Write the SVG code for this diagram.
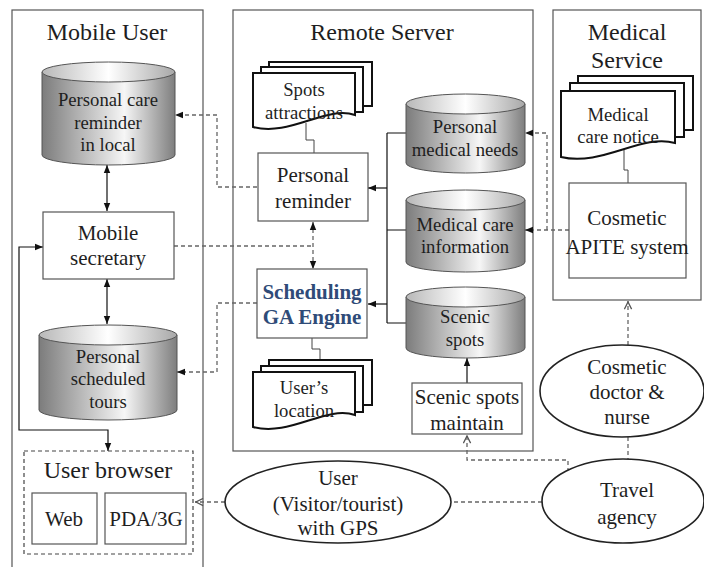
<svg xmlns="http://www.w3.org/2000/svg" width="704" height="567" viewBox="0 0 704 567">
<defs>
<linearGradient id="gBody" x1="0" y1="0" x2="1" y2="0">
<stop offset="0" stop-color="#7c7c7c"/><stop offset="0.62" stop-color="#f6f6f6"/><stop offset="1" stop-color="#7e7e7e"/>
</linearGradient>
<linearGradient id="gTop" x1="0" y1="0" x2="1" y2="0">
<stop offset="0" stop-color="#b8b8b8"/><stop offset="0.5" stop-color="#ffffff"/><stop offset="1" stop-color="#a8a8a8"/>
</linearGradient>
<marker id="ah" viewBox="0 0 10 10" refX="10" refY="5" markerWidth="8" markerHeight="8" orient="auto-start-reverse" markerUnits="userSpaceOnUse"><path d="M0,1 L10,5 L0,9 z" fill="#111"/></marker>
<marker id="oh" viewBox="0 0 10 10" refX="10" refY="5" markerWidth="9" markerHeight="9" orient="auto-start-reverse" markerUnits="userSpaceOnUse"><path d="M1,1 L9,5 L1,9" fill="none" stroke="#555" stroke-width="1.4"/></marker>
</defs>
<style>
text{font-family:"Liberation Serif","Times New Roman",serif;fill:#1e1e1e;text-anchor:middle}
.t{font-size:24px}
.b{font-size:21px}
.c{font-size:18.7px}
.ge{font-size:21px;font-weight:bold;fill:#2f4b78}
.cont{fill:#fff;stroke:#555;stroke-width:1.2}
.box{fill:#fff;stroke:#555;stroke-width:1.2}
.body{fill:url(#gBody);stroke:#555;stroke-width:1}
.top{fill:url(#gTop);stroke:#555;stroke-width:1}
.doc{fill:#fff;stroke:#111;stroke-width:2}
.ell{fill:#fff;stroke:#222;stroke-width:1.6}
.sl{fill:none;stroke:#111;stroke-width:1.2}
.dl{fill:none;stroke:#666;stroke-width:1.3;stroke-dasharray:4 3}
.thin{fill:none;stroke:#444;stroke-width:1}
</style>

<g id="containers">
<rect id="mobile-user" class="cont" x="12" y="10" width="191" height="565"/>
<rect id="remote-server" class="cont" x="233" y="10" width="300" height="441"/>
<rect id="medical-service" class="cont" x="553" y="10" width="148" height="290"/>
<text class="t" x="107" y="40">Mobile User</text>
<text class="t" x="382" y="40">Remote Server</text>
<text class="t" x="627" y="40">Medical</text>
<text class="t" x="627" y="68">Service</text>
</g>

<g id="connectors">
<path class="sl" d="M107,165 V211" marker-start="url(#ah)" marker-end="url(#ah)"/>
<path class="sl" d="M107,279 V324" marker-start="url(#ah)" marker-end="url(#ah)"/>
<path class="sl" d="M43,247 H19 V430 H108 V451" marker-start="url(#ah)" marker-end="url(#ah)"/>
<path class="dl" d="M257,187 H217 V115 H175" marker-end="url(#ah)"/>
<path class="dl" d="M257,303 H217 V372 H177" marker-end="url(#ah)"/>
<path class="dl" d="M174,246 H313"/>
<path class="dl" d="M313,222 V269" marker-start="url(#ah)" marker-end="url(#ah)"/>
<path class="sl" d="M387,133 V323 M406,133 H387 M406,230 H387 M406,323 H387"/>
<path class="sl" d="M387,188 H368" marker-end="url(#ah)"/>
<path class="sl" d="M387,304 H368" marker-end="url(#ah)"/>
<path class="thin" d="M306,123 V140 H314 V153"/>
<path class="thin" d="M312,338 V349 H320 V360"/>
<path class="thin" d="M624,150 V170 H628 V183"/>
<path class="sl" d="M467,383 V358" marker-end="url(#ah)"/>
<path class="dl" d="M569,230 H525" marker-end="url(#ah)"/>
<path class="dl" d="M547,230 V133 H525" marker-end="url(#ah)"/>
<path class="dl" d="M628,345 V301" marker-end="url(#oh)"/>
<path class="dl" d="M628,437 V460"/>
<path class="dl" d="M568,472 V460 H467 V435" marker-end="url(#oh)"/>
<path class="dl" d="M542,502 H452"/>
<path class="dl" d="M225,502 H195" marker-end="url(#oh)"/>
</g>

<g id="personal-care-reminder">
<path class="body" d="M42,72 V155 A66.5,10 0 0 0 175,155 V72 Z"/>
<ellipse class="top" cx="108.5" cy="72" rx="66.5" ry="10"/>
<text class="c" x="108" y="106">Personal care</text>
<text class="c" x="108" y="129">reminder</text>
<text class="c" x="108" y="151">in local</text>
</g>

<g id="mobile-secretary">
<rect class="box" x="43" y="212" width="131" height="67"/>
<text class="b" x="108" y="240">Mobile</text>
<text class="b" x="108" y="265">secretary</text>
</g>

<g id="personal-scheduled-tours">
<path class="body" d="M39,335 V410 A69,10 0 0 0 177,410 V335 Z"/>
<ellipse class="top" cx="108" cy="335" rx="69" ry="10"/>
<text class="c" x="108" y="363">Personal</text>
<text class="c" x="108" y="385">scheduled</text>
<text class="c" x="108" y="408">tours</text>
</g>

<g id="user-browser">
<rect x="24" y="451" width="169" height="103" fill="#fff" stroke="#444" stroke-width="1.2" stroke-dasharray="4 3"/>
<text class="t" x="108" y="478">User browser</text>
<rect class="box" x="32" y="493" width="65" height="51"/>
<text class="b" x="64" y="526">Web</text>
<rect class="box" x="105" y="493" width="81" height="51"/>
<text class="b" x="146" y="526">PDA/3G</text>
</g>

<g id="spots-attractions">
<rect class="doc" x="269" y="62" width="103" height="44"/>
<rect class="doc" x="261" y="67" width="102" height="45"/>
<path class="doc" d="M253,73 H355 V115 C326,105 290,137 253,127 Z"/>
<text class="c" x="304" y="96">Spots</text>
<text class="c" x="304" y="119">attractions</text>
</g>

<g id="personal-reminder">
<rect class="box" x="258" y="153" width="110" height="68"/>
<text class="b" x="313" y="182">Personal</text>
<text class="b" x="313" y="208">reminder</text>
</g>

<g id="scheduling-ga-engine">
<rect class="box" x="257" y="269" width="110" height="69"/>
<text class="ge" x="312" y="299">Scheduling</text>
<text class="ge" x="312" y="324">GA Engine</text>
</g>

<g id="users-location">
<rect class="doc" x="269" y="360" width="103" height="45"/>
<rect class="doc" x="261" y="366" width="102" height="46"/>
<path class="doc" d="M253,372 H355 V415 C326,405 290,437 253,427 Z"/>
<text class="c" x="304" y="394">User’s</text>
<text class="c" x="304" y="417">location</text>
</g>

<g id="personal-medical-needs">
<path class="body" d="M406,104 V163 A59.5,10 0 0 0 525,163 V104 Z"/>
<ellipse class="top" cx="465.5" cy="104" rx="59.5" ry="10"/>
<text class="c" x="465" y="133">Personal</text>
<text class="c" x="465" y="156">medical needs</text>
</g>

<g id="medical-care-information">
<path class="body" d="M406,200 V262 A59.5,10 0 0 0 525,262 V200 Z"/>
<ellipse class="top" cx="465.5" cy="200" rx="59.5" ry="10"/>
<text class="c" x="465" y="231">Medical care</text>
<text class="c" x="465" y="253">information</text>
</g>

<g id="scenic-spots">
<path class="body" d="M406,297 V348 A59.5,10 0 0 0 525,348 V297 Z"/>
<ellipse class="top" cx="465.5" cy="297" rx="59.5" ry="10"/>
<text class="c" x="465" y="323">Scenic</text>
<text class="c" x="465" y="346">spots</text>
</g>

<g id="scenic-spots-maintain">
<rect class="box" x="412" y="383" width="110" height="51"/>
<text class="b" x="467" y="404">Scenic spots</text>
<text class="b" x="467" y="430">maintain</text>
</g>

<g id="medical-care-notice">
<rect class="doc" x="578" y="76" width="115" height="54"/>
<rect class="doc" x="570" y="83" width="114" height="54"/>
<path class="doc" d="M561,91 H675 V143 C642,133 602,167 561,157 Z"/>
<text class="c" x="618" y="121">Medical</text>
<text class="c" x="618" y="143">care  notice</text>
</g>

<g id="cosmetic-apite-system">
<rect class="box" x="569" y="183" width="117" height="95"/>
<text class="b" x="627" y="225">Cosmetic</text>
<text class="b" x="627" y="254">APITE system</text>
</g>

<g id="cosmetic-doctor-nurse">
<ellipse class="ell" cx="622" cy="391" rx="82" ry="46"/>
<text class="b" x="627" y="374">Cosmetic</text>
<text class="b" x="627" y="399">doctor &amp;</text>
<text class="b" x="627" y="424">nurse</text>
</g>

<g id="travel-agency">
<ellipse class="ell" cx="623" cy="501" rx="81" ry="42"/>
<text class="b" x="627" y="497">Travel</text>
<text class="b" x="627" y="524">agency</text>
</g>

<g id="user-gps">
<ellipse class="ell" cx="338" cy="502" rx="113" ry="41"/>
<text class="b" x="338" y="485">User</text>
<text class="b" x="338" y="511">(Visitor/tourist)</text>
<text class="b" x="338" y="535">with GPS</text>
</g>
</svg>
